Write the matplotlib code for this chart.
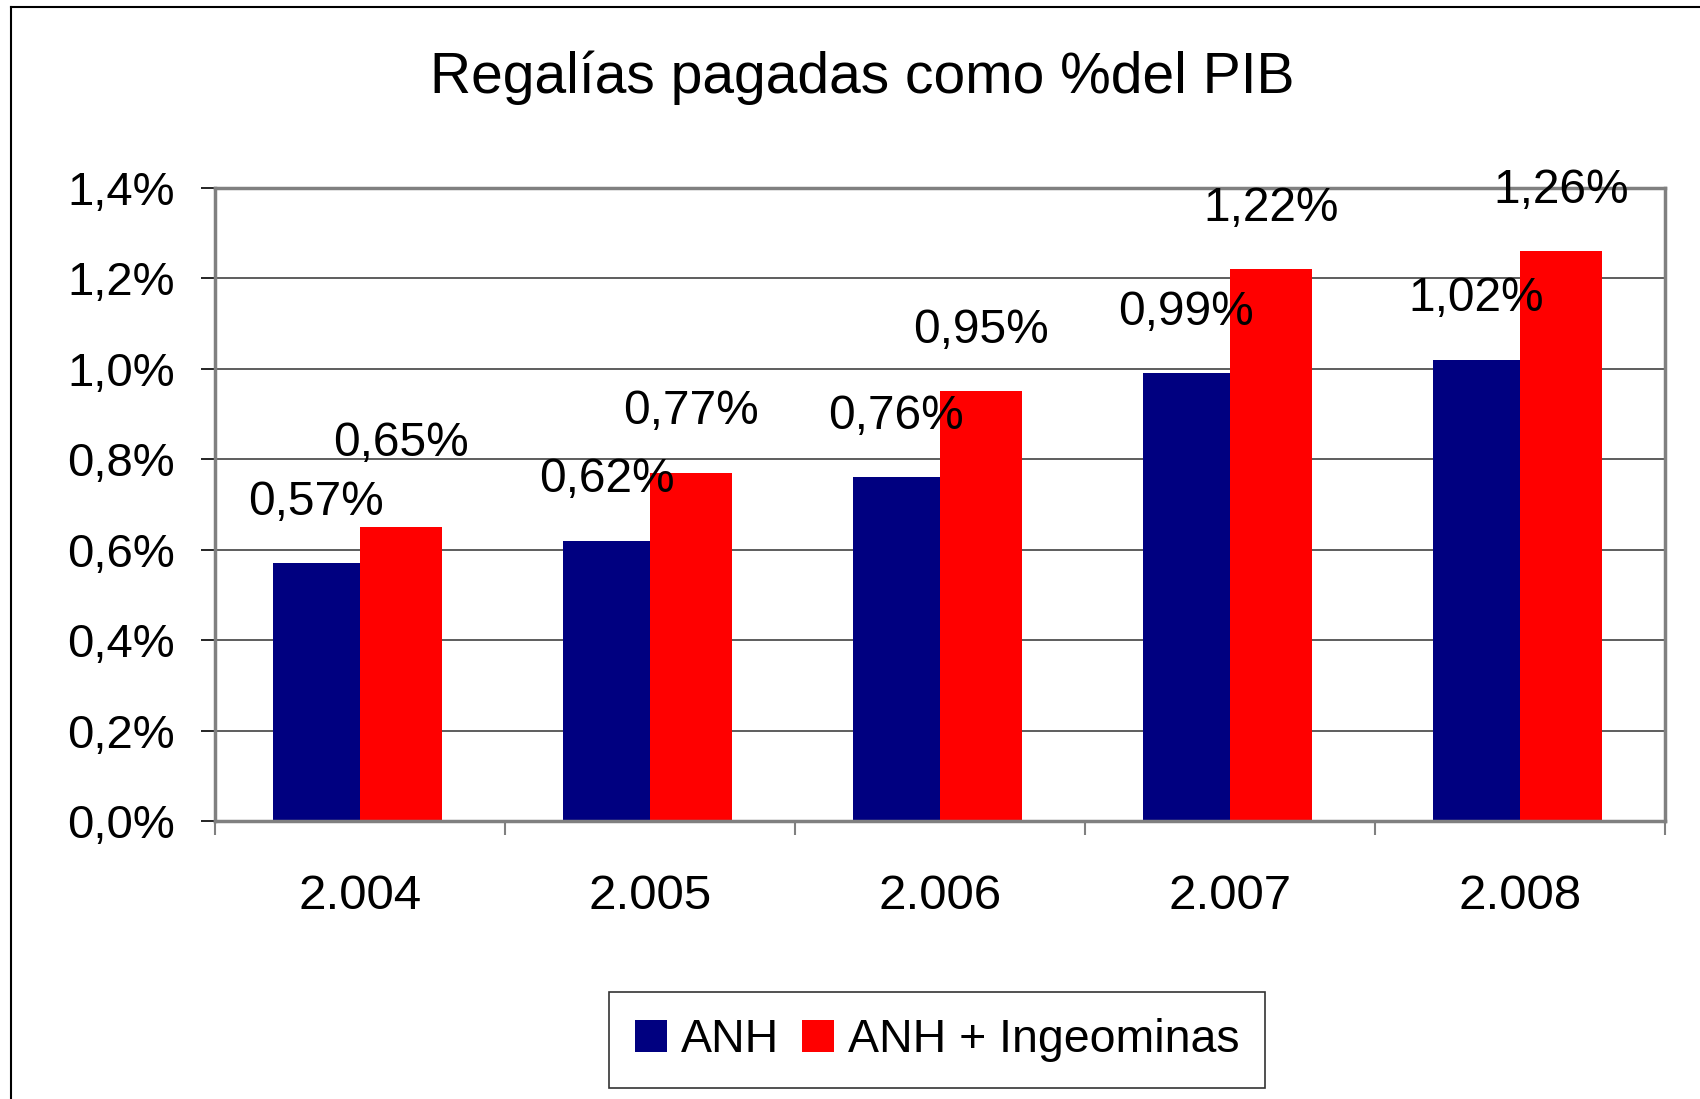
import matplotlib
matplotlib.use("Agg")
import matplotlib.pyplot as plt
from matplotlib.lines import Line2D
import numpy as np

plt.rcParams['font.family'] = ['Liberation Sans', 'DejaVu Sans']

years = ["2.004", "2.005", "2.006", "2.007", "2.008"]
anh = [0.57, 0.62, 0.76, 0.99, 1.02]
anh_ing = [0.65, 0.77, 0.95, 1.22, 1.26]
series_names = ["ANH", "ANH + Ingeominas"]
yticks = [0.0, 0.2, 0.4, 0.6, 0.8, 1.0, 1.2, 1.4]
title = "Regalías pagadas como %del PIB"

# label vertical offsets (points) – styling
anh_off = [44, 44, 44, 44, 44]
ing_off = [60, 44, 44, 44, 44]

blue = "#000080"
red = "#FF0000"

fig = plt.figure(figsize=(17, 10.99), dpi=100)
ax = fig.add_axes([215/1700, 1-821/1099, 1450/1700, (821-188)/1099])

x = np.arange(len(years))
b1 = ax.bar(x - 0.30, anh, width=0.30, align='edge', color=blue, zorder=3, label=series_names[0])
b2 = ax.bar(x, anh_ing, width=0.283, align='edge', color=red, zorder=3, label=series_names[1])

def fmt(v):
    return f"{v:.2f}".replace(".", ",") + "%"

for rect, v, off in zip(b1, anh, anh_off):
    ax.annotate(fmt(v), (rect.get_x() + rect.get_width()/2, v), xytext=(0, off),
                textcoords='offset points', ha='center', va='center', fontsize=34.5, zorder=5,
                annotation_clip=False)
for rect, v, off in zip(b2, anh_ing, ing_off):
    ax.annotate(fmt(v), (rect.get_x() + rect.get_width()/2, v), xytext=(0, off),
                textcoords='offset points', ha='center', va='center', fontsize=34.5, zorder=5,
                annotation_clip=False)

ax.set_xlim(-0.5, len(years) - 0.5)
ax.set_ylim(0, 1.4)
ax.set_yticks(yticks)
ax.set_yticklabels([f"{t:.1f}".replace(".", ",") + "%" for t in yticks], fontsize=34)
ax.tick_params(axis='y', direction='out', length=10, width=1.2, color='black', pad=19)

ax.set_xticks(x)
ax.set_xticklabels(years, fontsize=35.5)
ax.tick_params(axis='x', which='major', length=0, pad=38)
ax.set_xticks(np.arange(-0.5, len(years)), minor=True)
ax.tick_params(axis='x', which='minor', direction='out', length=10, width=1.5, color='#808080')

ax.yaxis.grid(True, color='#505050', linewidth=1.3, zorder=0)
ax.set_axisbelow(True)
for s in ax.spines.values():
    s.set_color('#808080')
    s.set_linewidth(2.5)
    s.set_zorder(4)

fig.text(862/1700, 1-78/1099, title, ha='center', va='center', fontsize=41)

leg = fig.legend(handles=[b1, b2], labels=series_names, loc='center',
                 bbox_to_anchor=(937/1700, 1-1040/1099), ncol=2, fontsize=33.5,
                 frameon=True, fancybox=False, edgecolor='black', handlelength=0.68,
                 handleheight=0.68, handletextpad=0.3, columnspacing=0.5,
                 borderpad=0.55, borderaxespad=0)
leg.get_frame().set_linewidth(1.2)

# outer border lines (top and left)
fig.add_artist(Line2D([11/1700, 1], [1-7/1099, 1-7/1099], transform=fig.transFigure, color='black', linewidth=1.5))
fig.add_artist(Line2D([11/1700, 11/1700], [0, 1-7/1099], transform=fig.transFigure, color='black', linewidth=1.5))

fig.savefig("out.png", dpi=100, facecolor='white')
